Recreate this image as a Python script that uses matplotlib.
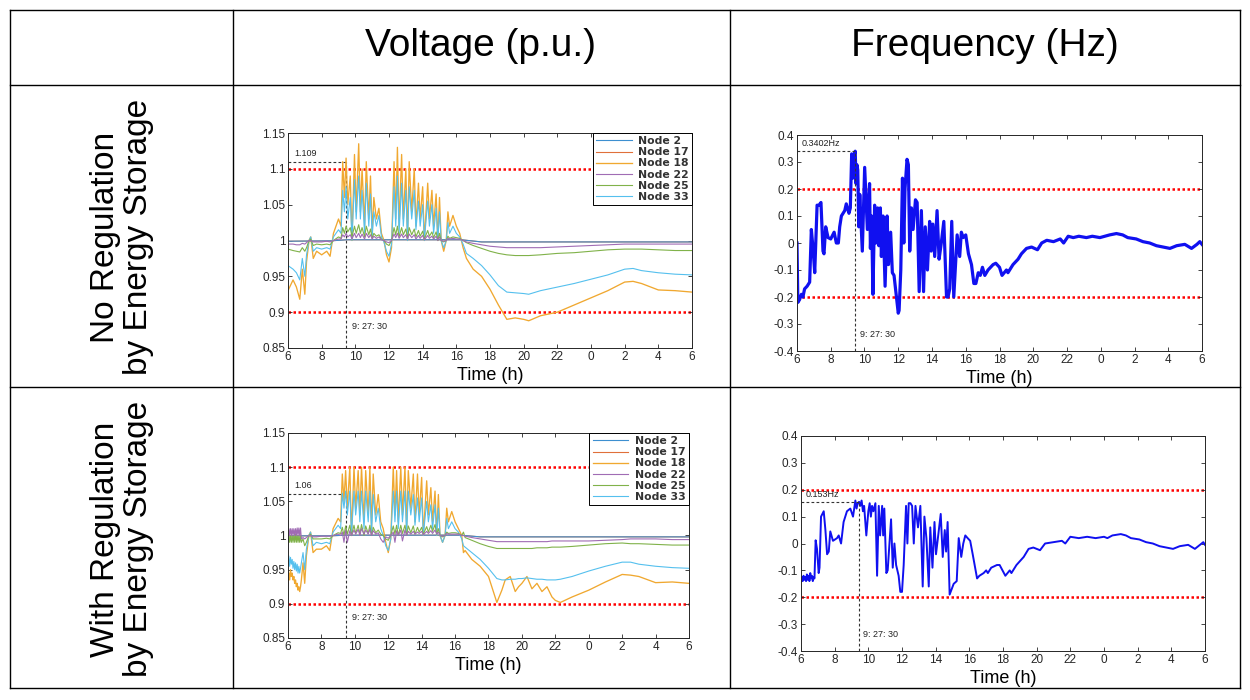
import matplotlib
matplotlib.use("Agg")
import matplotlib.pyplot as plt
from matplotlib.lines import Line2D

plt.rcParams['font.family'] = ['Liberation Sans', 'DejaVu Sans']

# ---- data: voltage, no regulation ----
t_v1 = [6.0, 6.3, 6.5, 6.7, 6.85, 7.0, 7.1, 7.25, 7.35, 7.5,
        7.7, 8.0, 8.3, 8.5, 8.7, 9.0, 9.15, 9.25, 9.35, 9.45,
        9.55, 9.7, 9.8, 9.95, 10.05, 10.2, 10.3, 10.4, 10.55, 10.65,
        10.8, 10.9, 11.0, 11.1, 11.25, 11.4, 11.55, 11.7, 11.85, 12.0,
        12.15, 12.3, 12.4, 12.5, 12.6, 12.75, 12.85, 13.0, 13.1, 13.2,
        13.35, 13.5, 13.6, 13.75, 13.85, 14.0, 14.1, 14.3, 14.4, 14.55,
        14.65, 14.8, 14.9, 15.0, 15.1, 15.25, 15.4, 15.5, 15.6, 15.8,
        16.0, 16.2, 16.4, 16.6, 17.0, 17.5, 18.0, 18.5, 19.0, 19.5,
        20.0, 20.3, 21.0, 22.0, 23.0, 24.0, 25.0, 26.0, 26.5, 27.0,
        28.0, 29.0, 30.0]
v18_a = [0.93, 0.945, 0.935, 0.918, 0.96, 0.925, 0.97, 1.0, 1.005, 0.975,
         0.985, 0.98, 0.985, 0.978, 1.01, 1.03, 1.02, 1.11, 1.06, 1.115,
         1.05, 1.09, 1.0, 1.12, 1.04, 1.135, 1.04, 1.1, 1.02, 1.11,
         1.03, 1.09, 1.01, 1.06, 1.03, 1.045, 1.01, 1.0, 0.98, 0.97,
         0.99, 1.11, 1.03, 1.13, 1.02, 1.12, 1.03, 1.1, 1.0, 1.11,
         1.04, 1.1, 1.02, 1.08, 1.03, 1.075, 1.0, 1.08, 1.03, 1.07,
         1.02, 1.065, 1.0, 1.06, 1.0, 0.985, 1.0, 1.04, 1.02, 1.035,
         1.02, 1.01, 0.99, 0.975, 0.96, 0.95, 0.932, 0.91, 0.89, 0.892,
         0.89, 0.888, 0.895, 0.9, 0.91, 0.92, 0.93, 0.942, 0.943, 0.94,
         0.931, 0.93, 0.928]
v33_a = [0.965, 0.96, 0.955, 0.945, 0.975, 0.95, 0.98, 1.0, 1.005, 0.985,
         0.99, 0.988, 0.99, 0.988, 1.005, 1.015, 1.01, 1.07, 1.04, 1.075,
         1.03, 1.06, 1.0, 1.085, 1.03, 1.09, 1.03, 1.07, 1.01, 1.08,
         1.02, 1.065, 1.005, 1.04, 1.02, 1.035, 1.005, 0.998, 0.985, 0.978,
         0.995, 1.075, 1.02, 1.09, 1.01, 1.08, 1.02, 1.07, 1.0, 1.075,
         1.03, 1.07, 1.015, 1.055, 1.02, 1.05, 1.0, 1.055, 1.02, 1.05,
         1.01, 1.045, 1.0, 1.04, 1.0, 0.99, 1.0, 1.025, 1.01, 1.02,
         1.01, 1.005, 0.995, 0.982, 0.975, 0.965, 0.952, 0.937, 0.928, 0.927,
         0.926, 0.925, 0.93, 0.935, 0.94, 0.946, 0.952, 0.96, 0.961, 0.958,
         0.955, 0.953, 0.952]
v25_a = [0.988, 0.986, 0.985, 0.984, 0.99, 0.985, 0.99, 1.0, 1.002, 0.993,
         0.995, 0.994, 0.995, 0.994, 1.0, 1.005, 1.003, 1.018, 1.01, 1.02,
         1.012, 1.018, 1.005, 1.02, 1.01, 1.022, 1.01, 1.018, 1.005, 1.02,
         1.008, 1.016, 1.003, 1.01, 1.006, 1.008, 1.002, 1.0, 0.995, 0.993,
         1.0, 1.018, 1.008, 1.02, 1.005, 1.018, 1.008, 1.016, 1.003, 1.018,
         1.008, 1.016, 1.005, 1.014, 1.006, 1.013, 1.002, 1.014, 1.006, 1.012,
         1.004, 1.012, 1.0, 1.01, 1.0, 0.998, 1.0, 1.006, 1.003, 1.005,
         1.004, 1.003, 1.0, 0.997, 0.993, 0.989, 0.985, 0.982, 0.98, 0.979,
         0.979, 0.979, 0.98, 0.982, 0.983, 0.985, 0.987, 0.988, 0.988, 0.988,
         0.987, 0.986, 0.986]
v22_a = [0.995, 0.995, 0.994, 0.994, 0.996, 0.995, 0.997, 1.0, 1.0, 0.998,
         0.998, 0.998, 0.999, 0.998, 1.0, 1.002, 1.002, 1.008, 1.005, 1.01,
         1.005, 1.008, 1.002, 1.01, 1.004, 1.01, 1.004, 1.009, 1.002, 1.01,
         1.004, 1.008, 1.002, 1.006, 1.003, 1.005, 1.001, 1.0, 0.998, 0.997,
         1.0, 1.009, 1.004, 1.01, 1.003, 1.009, 1.004, 1.008, 1.002, 1.009,
         1.004, 1.008, 1.002, 1.007, 1.003, 1.007, 1.001, 1.007, 1.003, 1.006,
         1.002, 1.006, 1.0, 1.005, 1.0, 0.999, 1.0, 1.003, 1.002, 1.003,
         1.002, 1.002, 1.0, 0.998, 0.996, 0.994, 0.992, 0.991, 0.99, 0.99,
         0.99, 0.99, 0.99, 0.991, 0.992, 0.993, 0.994, 0.995, 0.995, 0.995,
         0.995, 0.995, 0.995]
t_flat = [6.0, 8.5, 9.5, 16.3, 17.5, 30.0]
v2_a = [0.999, 0.9995, 1.001, 1.001, 0.998, 0.998]
v17_a = [0.999, 0.9995, 1.001, 1.001, 0.998, 0.998]

# ---- data: voltage, with regulation ----
t_v2 = [6.0, 6.05, 6.1, 6.15, 6.2, 6.25, 6.3, 6.35, 6.4, 6.45,
        6.5, 6.55, 6.6, 6.65, 6.7, 6.75, 6.8, 6.9, 7.0, 7.1,
        7.25, 7.35, 7.5, 7.7, 8.0, 8.3, 8.5, 8.7, 9.0, 9.15,
        9.25, 9.35, 9.45, 9.55, 9.7, 9.8, 9.95, 10.05, 10.2, 10.3,
        10.4, 10.55, 10.65, 10.8, 10.9, 11.0, 11.1, 11.25, 11.4, 11.55,
        11.7, 11.85, 12.0, 12.15, 12.3, 12.4, 12.5, 12.6, 12.75, 12.85,
        13.0, 13.1, 13.2, 13.35, 13.5, 13.6, 13.75, 13.85, 14.0, 14.1,
        14.3, 14.4, 14.55, 14.65, 14.8, 14.9, 15.0, 15.1, 15.25, 15.4,
        15.5, 15.6, 15.8, 16.0, 16.2, 16.4, 16.5, 16.6, 17.0, 17.5,
        18.0, 18.5, 18.8, 19.0, 19.3, 19.6, 19.8, 20.0, 20.3, 20.6,
        20.9, 21.2, 21.5, 21.8, 22.0, 22.3, 23.0, 24.0, 25.0, 26.0,
        26.5, 27.0, 28.0, 29.0, 30.0]
v18_b = [0.93, 0.945, 0.935, 0.95, 0.94, 0.945, 0.935, 0.94, 0.93, 0.935,
         0.925, 0.93, 0.92, 0.925, 0.918, 0.925, 0.935, 0.96, 0.93, 0.97,
         1.0, 1.005, 0.975, 0.98, 0.98, 0.985, 0.978, 1.01, 1.025, 1.02,
         1.09, 1.05, 1.095, 1.04, 1.1, 1.0, 1.1, 1.04, 1.095, 1.03,
         1.1, 1.02, 1.095, 1.03, 1.1, 1.01, 1.09, 1.03, 1.06, 1.02,
         1.01, 0.99, 0.975, 0.995, 1.1, 1.03, 1.095, 1.02, 1.1, 1.03,
         1.1, 1.01, 1.095, 1.04, 1.09, 1.02, 1.09, 1.03, 1.085, 1.0,
         1.08, 1.03, 1.07, 1.02, 1.065, 1.0, 1.06, 1.0, 0.99, 1.0,
         1.04, 1.02, 1.035, 1.02, 1.01, 1.0, 0.975, 0.978, 0.965, 0.955,
         0.94, 0.902, 0.92, 0.935, 0.94, 0.918, 0.925, 0.93, 0.94, 0.922,
         0.93, 0.918, 0.925, 0.91, 0.905, 0.902, 0.91, 0.92, 0.932, 0.943,
         0.942, 0.94, 0.931, 0.932, 0.93]
v33_b = [0.96, 0.97, 0.955, 0.968, 0.958, 0.965, 0.952, 0.962, 0.95, 0.96,
         0.948, 0.958, 0.945, 0.955, 0.945, 0.952, 0.96, 0.975, 0.95, 0.98,
         1.0, 1.005, 0.985, 0.99, 0.988, 0.99, 0.988, 1.005, 1.015, 1.01,
         1.062, 1.04, 1.065, 1.03, 1.065, 1.0, 1.065, 1.03, 1.065, 1.02,
         1.065, 1.01, 1.065, 1.02, 1.065, 1.005, 1.06, 1.02, 1.04, 1.01,
         1.0, 0.985, 0.978, 0.995, 1.065, 1.02, 1.065, 1.01, 1.065, 1.02,
         1.065, 1.0, 1.065, 1.03, 1.06, 1.015, 1.055, 1.02, 1.055, 1.0,
         1.05, 1.02, 1.045, 1.01, 1.045, 1.0, 1.04, 1.0, 0.99, 1.0,
         1.025, 1.01, 1.02, 1.01, 1.005, 0.995, 0.985, 0.983, 0.975, 0.965,
         0.952, 0.937, 0.935, 0.935, 0.936, 0.936, 0.937, 0.937, 0.938, 0.937,
         0.936, 0.936, 0.935, 0.935, 0.935, 0.936, 0.94, 0.948, 0.955, 0.961,
         0.961, 0.958, 0.955, 0.953, 0.952]
v25_b = [0.99, 1.0, 0.99, 1.0, 0.99, 1.0, 0.99, 1.0, 0.99, 1.002,
         0.99, 1.0, 0.99, 1.0, 0.99, 1.0, 0.99, 0.995, 0.985, 0.99,
         1.0, 1.002, 0.995, 0.995, 0.995, 0.996, 0.995, 1.0, 1.004, 1.003,
         1.012, 1.0, 1.014, 1.002, 1.015, 1.0, 1.015, 1.003, 1.015, 1.002,
         1.016, 1.0, 1.014, 1.003, 1.015, 1.0, 1.012, 1.004, 1.008, 1.002,
         1.0, 0.995, 0.993, 1.0, 1.014, 1.002, 1.015, 1.0, 1.015, 1.003,
         1.015, 1.0, 1.014, 1.004, 1.014, 1.002, 1.012, 1.005, 1.012, 1.002,
         1.013, 1.005, 1.015, 1.006, 1.016, 1.002, 1.01, 1.0, 0.998, 1.0,
         1.005, 1.003, 1.004, 1.004, 1.003, 1.0, 1.005, 0.997, 0.993, 0.988,
         0.984, 0.981, 0.981, 0.981, 0.981, 0.981, 0.981, 0.981, 0.981, 0.981,
         0.982, 0.982, 0.982, 0.983, 0.983, 0.983, 0.984, 0.986, 0.988, 0.989,
         0.988, 0.988, 0.987, 0.986, 0.986]
v22_b = [1.0, 1.01, 1.0, 1.01, 1.0, 1.01, 1.0, 1.01, 1.0, 1.01,
         1.0, 1.011, 1.0, 1.011, 1.0, 1.011, 0.995, 0.997, 0.995, 0.997,
         1.0, 1.0, 0.998, 0.998, 0.999, 0.999, 0.999, 1.0, 1.002, 1.0,
         1.005, 0.99, 1.008, 0.99, 1.007, 1.0, 1.008, 1.002, 1.009, 1.0,
         1.01, 1.002, 1.008, 1.002, 1.009, 1.0, 1.007, 1.002, 1.004, 0.995,
         0.99, 0.998, 0.996, 1.0, 1.005, 0.99, 1.007, 1.0, 1.008, 0.992,
         1.008, 1.0, 1.006, 1.002, 1.006, 1.002, 1.005, 1.003, 1.006, 1.001,
         1.006, 1.003, 1.007, 1.003, 1.008, 1.002, 1.005, 1.0, 0.999, 1.0,
         1.003, 1.002, 1.002, 1.002, 1.002, 1.0, 1.0, 0.999, 0.997, 0.995,
         0.993, 0.991, 0.991, 0.991, 0.991, 0.991, 0.991, 0.991, 0.991, 0.991,
         0.991, 0.991, 0.991, 0.992, 0.992, 0.992, 0.992, 0.992, 0.993, 0.994,
         0.995, 0.995, 0.995, 0.994, 0.994]
v2_b = [0.9995, 0.9995, 1.0005, 1.0005, 0.998, 0.998]
v17_b = [0.9995, 0.9995, 1.0005, 1.0005, 0.998, 0.998]

# ---- data: frequency deviation (Hz) ----
freq_a = [(6.0, 0.0), (6.05, -0.22), (6.15, -0.21), (6.26, -0.19), (6.35, -0.2),
          (6.45, -0.17), (6.6, -0.16), (6.75, -0.145), (6.85, 0.05), (6.95, -0.02),
          (7.05, -0.11), (7.19, 0.14), (7.3, 0.14), (7.42, 0.15), (7.54, -0.03),
          (7.6, -0.04), (7.7, 0.06), (7.84, 0.02), (8.0, 0.015), (8.2, 0.04),
          (8.33, 0.0), (8.45, 0.0), (8.53, 0.06), (8.63, 0.1), (8.83, 0.12),
          (8.92, 0.145), (9.08, 0.11), (9.16, 0.13), (9.24, 0.33), (9.3, 0.24),
          (9.36, 0.32), (9.45, 0.34), (9.5, 0.22), (9.55, 0.29), (9.6, 0.27),
          (9.66, 0.06), (9.72, 0.18), (9.87, -0.03), (10.01, 0.28), (10.17, 0.05),
          (10.3, 0.22), (10.35, -0.02), (10.42, 0.1), (10.5, -0.19), (10.6, 0.14),
          (10.68, 0.0), (10.78, 0.13), (10.85, -0.01), (10.94, 0.13), (11.0, -0.05),
          (11.1, 0.1), (11.22, -0.16), (11.34, 0.1), (11.42, -0.08), (11.55, 0.04),
          (11.65, -0.11), (11.75, -0.12), (11.89, -0.2), (12.0, -0.26), (12.05, -0.25),
          (12.15, -0.1), (12.25, 0.24), (12.33, 0.0), (12.4, 0.2), (12.52, 0.31),
          (12.6, 0.29), (12.68, -0.03), (12.78, 0.13), (12.88, 0.05), (13.02, 0.16),
          (13.12, 0.15), (13.24, -0.18), (13.37, 0.12), (13.5, -0.18), (13.6, 0.06),
          (13.73, -0.1), (13.86, 0.08), (13.95, -0.03), (14.05, 0.07), (14.16, -0.05),
          (14.3, 0.12), (14.42, -0.06), (14.55, 0.0), (14.7, 0.08), (14.86, -0.2),
          (14.95, -0.2), (15.05, -0.17), (15.17, 0.08), (15.29, -0.2), (15.36, -0.12),
          (15.49, 0.03), (15.64, -0.05), (15.74, 0.04), (15.85, 0.02), (16.0, 0.03),
          (16.16, -0.04), (16.34, -0.08), (16.48, -0.15), (16.6, -0.15), (16.74, -0.11),
          (16.86, -0.12), (16.99, -0.09), (17.13, -0.12), (17.32, -0.1), (17.62, -0.08),
          (17.78, -0.075), (18.0, -0.09), (18.15, -0.12), (18.41, -0.1), (18.5, -0.11),
          (18.8, -0.08), (19.1, -0.06), (19.3, -0.04), (19.6, -0.02), (19.9, -0.015),
          (20.25, -0.025), (20.5, 0.0), (20.8, 0.01), (21.2, 0.005), (21.6, 0.015),
          (21.8, 0.0), (22.07, 0.025), (22.37, 0.02), (22.7, 0.025), (23.15, 0.02),
          (23.5, 0.025), (23.95, 0.02), (24.25, 0.025), (24.53, 0.03), (24.93, 0.035),
          (25.3, 0.03), (25.6, 0.02), (26.1, 0.015), (26.5, 0.005), (26.9, 0.0),
          (27.3, -0.01), (27.7, -0.015), (28.1, -0.02), (28.5, -0.01), (28.98, -0.005),
          (29.38, -0.02), (29.7, -0.005), (29.87, 0.005), (30.0, -0.005)]
freq_b = [(6.0, -0.14), (6.05, -0.125), (6.1, -0.14), (6.15, -0.12), (6.2, -0.135),
          (6.25, -0.125), (6.3, -0.14), (6.35, -0.115), (6.4, -0.135), (6.45, -0.12),
          (6.5, -0.14), (6.55, -0.11), (6.6, -0.13), (6.65, -0.12), (6.7, -0.14),
          (6.75, -0.125), (6.8, -0.13), (6.87, 0.012), (6.95, -0.02), (7.05, -0.11),
          (7.1, -0.09), (7.19, 0.1), (7.35, 0.12), (7.45, 0.05), (7.55, -0.04),
          (7.65, -0.03), (7.74, 0.045), (7.9, 0.01), (8.14, 0.02), (8.24, 0.03),
          (8.38, 0.0), (8.53, 0.08), (8.73, 0.12), (8.93, 0.13), (9.09, 0.1),
          (9.23, 0.16), (9.3, 0.13), (9.37, 0.15), (9.45, 0.155), (9.52, 0.14),
          (9.6, 0.16), (9.68, 0.12), (9.75, 0.14), (9.88, 0.03), (10.0, 0.12),
          (10.08, 0.15), (10.15, 0.1), (10.22, 0.14), (10.3, 0.12), (10.42, 0.15),
          (10.52, -0.12), (10.62, 0.14), (10.7, 0.03), (10.82, 0.14), (10.88, 0.03),
          (10.95, 0.13), (11.07, -0.11), (11.15, -0.1), (11.35, 0.09), (11.45, -0.09),
          (11.55, 0.0), (11.65, -0.08), (11.8, -0.12), (11.9, -0.18), (12.0, -0.18),
          (12.1, -0.08), (12.24, 0.14), (12.32, 0.0), (12.4, 0.15), (12.5, 0.15),
          (12.6, 0.14), (12.7, 0.0), (12.8, 0.14), (12.95, 0.06), (13.09, 0.14),
          (13.23, -0.16), (13.33, 0.1), (13.45, 0.02), (13.59, -0.16), (13.68, 0.06),
          (13.81, -0.09), (13.93, 0.08), (14.02, -0.04), (14.15, 0.03), (14.3, 0.11),
          (14.42, -0.05), (14.54, 0.05), (14.62, -0.03), (14.71, 0.08), (14.83, -0.19),
          (15.07, -0.15), (15.25, -0.14), (15.37, 0.02), (15.52, -0.05), (15.64, 0.0),
          (15.76, 0.03), (15.9, 0.02), (16.05, 0.01), (16.2, -0.04), (16.46, -0.13),
          (16.6, -0.12), (16.85, -0.11), (17.0, -0.1), (17.1, -0.11), (17.3, -0.09),
          (17.64, -0.08), (17.8, -0.08), (18.14, -0.12), (18.4, -0.1), (18.5, -0.11),
          (18.8, -0.08), (19.23, -0.05), (19.52, -0.02), (19.8, -0.015), (20.2, -0.025),
          (20.5, 0.0), (21.0, 0.005), (21.5, 0.01), (21.7, 0.0), (22.0, 0.025),
          (22.5, 0.02), (23.0, 0.025), (23.5, 0.02), (24.0, 0.025), (24.2, 0.02),
          (24.5, 0.03), (25.0, 0.035), (25.3, 0.03), (25.6, 0.02), (26.1, 0.015),
          (26.5, 0.005), (26.9, 0.0), (27.3, -0.01), (27.7, -0.015), (28.1, -0.02),
          (28.5, -0.01), (29.0, -0.005), (29.4, -0.02), (29.7, -0.005), (29.9, 0.005),
          (30.0, -0.005)]

x_ticks = [6, 8, 10, 12, 14, 16, 18, 20, 22, 24, 26, 28, 30]
x_labels = ["6", "8", "10", "12", "14", "16", "18", "20", "22", "0", "2", "4", "6"]
v_ticks = [0.85, 0.9, 0.95, 1.0, 1.05, 1.1, 1.15]
v_labels = ["0.85", "0.9", "0.95", "1", "1.05", "1.1", "1.15"]
f_ticks = [-0.4, -0.3, -0.2, -0.1, 0, 0.1, 0.2, 0.3, 0.4]
f_labels = ["-0.4", "-0.3", "-0.2", "-0.1", "0", "0.1", "0.2", "0.3", "0.4"]
node_names = ["Node 2", "Node 17", "Node 18", "Node 22", "Node 25", "Node 33"]
node_colors = ["#3d8fd0", "#e0703a", "#f0a830", "#a06cb4", "#80b24a", "#55c0ee"]
t_event = 9.458   # 9:27:30

for name, arr, ref in [("v18_a", v18_a, t_v1), ("v33_a", v33_a, t_v1), ("v25_a", v25_a, t_v1),
                       ("v22_a", v22_a, t_v1), ("v18_b", v18_b, t_v2), ("v33_b", v33_b, t_v2),
                       ("v25_b", v25_b, t_v2), ("v22_b", v22_b, t_v2)]:
    assert len(arr) == len(ref), (name, len(arr), len(ref))

W, H = 1250, 700
fig = plt.figure(figsize=(12.5, 7), dpi=100)


def box(px_left, px_top, px_right, px_bottom):
    return [px_left / W, 1 - px_bottom / H, (px_right - px_left) / W, (px_bottom - px_top) / H]


# table grid
for x in [10, 233, 730, 1240]:
    fig.add_artist(Line2D([x / W, x / W], [1 - 10 / H, 1 - 688 / H], color="black", lw=1))
for y in [10, 85, 387, 688]:
    fig.add_artist(Line2D([10 / W, 1240 / W], [1 - y / H, 1 - y / H], color="black", lw=1))

fig.text(481 / W, 1 - 46 / H, "Voltage (p.u.)", fontsize=28, ha="center", va="center")
fig.text(985 / W, 1 - 46 / H, "Frequency (Hz)", fontsize=28, ha="center", va="center")
fig.text(122 / W, 1 - 237 / H, "No Regulation\nby Energy Storage", fontsize=24, rotation=90,
         ha="center", va="center", linespacing=1.05, multialignment="center")
fig.text(122 / W, 1 - 539 / H, "With Regulation\nby Energy Storage", fontsize=24, rotation=90,
         ha="center", va="center", linespacing=1.05, multialignment="center")


def style_axes(ax, yticks, ylabels, ylim):
    ax.set_xlim(6, 30)
    ax.set_ylim(*ylim)
    ax.set_xticks(x_ticks)
    ax.set_xticklabels(x_labels)
    ax.set_yticks(yticks)
    ax.set_yticklabels(ylabels)
    ax.tick_params(direction="in", length=3, width=0.6, top=True, right=True,
                   labelsize=8.5, colors="#262626", pad=2)
    for s in ax.spines.values():
        s.set_linewidth(0.7)
        s.set_color("#262626")
    ax.set_xlabel("Time (h)", fontsize=13, labelpad=3)


red_dot = dict(color="red", lw=1.8, linestyle=(0, (1, 1)))
dash = dict(color="#333333", lw=0.8, linestyle=(0, (2.5, 2)))


def voltage_panel(ax, t, v18, v33, v25, v22, v2, v17, peak, peak_label):
    ax.axhline(1.1, **red_dot, zorder=1)
    ax.axhline(0.9, **red_dot, zorder=1)
    h = [None] * 6
    h[1], = ax.plot(t_flat, v17, color=node_colors[1], lw=0.8, zorder=2)
    h[0], = ax.plot(t_flat, v2, color=node_colors[0], lw=0.8, zorder=2.1)
    h[2], = ax.plot(t, v18, color=node_colors[2], lw=0.95, zorder=2.2)
    h[3], = ax.plot(t, v22, color=node_colors[3], lw=0.8, zorder=2.5)
    h[4], = ax.plot(t, v25, color=node_colors[4], lw=0.8, zorder=2.4)
    h[5], = ax.plot(t, v33, color=node_colors[5], lw=0.8, zorder=2.3)
    ax.plot([6, t_event], [peak, peak], **dash)
    ax.plot([t_event, t_event], [0.85, peak], **dash)
    ax.text(6.35, peak + 0.006, peak_label, fontsize=6.5, color="#222222", va="bottom")
    ax.text(t_event + 0.35, 0.88, "9: 27: 30", fontsize=6.5, color="#222222", va="center")
    style_axes(ax, v_ticks, v_labels, (0.85, 1.15))
    leg = ax.legend(h, node_names, loc="upper right", borderaxespad=0, fancybox=False,
                    edgecolor="black", framealpha=1, handlelength=3.3, labelspacing=0.1,
                    borderpad=0.3, handletextpad=0.6,
                    prop={"family": "DejaVu Sans", "size": 7.8, "weight": "bold"})
    leg.set_zorder(5)
    leg.get_frame().set_linewidth(0.7)
    for txt in leg.get_texts():
        txt.set_color("#333333")


def freq_panel(ax, data, lw, peak, peak_label):
    ax.axhline(0.2, **red_dot, zorder=1)
    ax.axhline(-0.2, **red_dot, zorder=1)
    ts = [p[0] for p in data]
    fs = [p[1] for p in data]
    ax.plot(ts, fs, color="#1010f0", lw=lw, solid_joinstyle="round")
    ax.plot([6, t_event], [peak, peak], **dash)
    ax.plot([t_event, t_event], [-0.4, peak], **dash)
    ax.text(6.3, peak + 0.012, peak_label, fontsize=6.5, color="#222222", va="bottom")
    ax.text(t_event + 0.25, -0.34, "9: 27: 30", fontsize=6.5, color="#222222", va="center")
    style_axes(ax, f_ticks, f_labels, (-0.4, 0.4))


ax1 = fig.add_axes(box(288, 133, 692, 348))
voltage_panel(ax1, t_v1, v18_a, v33_a, v25_a, v22_a, v2_a, v17_a, 1.109, "1.109")

ax2 = fig.add_axes(box(797, 135, 1202, 351))
freq_panel(ax2, freq_a, 2.3, 0.3402, "0.3402Hz")

ax3 = fig.add_axes(box(288, 433, 689, 638))
voltage_panel(ax3, t_v2, v18_b, v33_b, v25_b, v22_b, v2_b, v17_b, 1.06, "1.06")

ax4 = fig.add_axes(box(801, 436, 1205, 651))
freq_panel(ax4, freq_b, 1.4, 0.153, "0.153Hz")

fig.savefig("out.png", dpi=100)
